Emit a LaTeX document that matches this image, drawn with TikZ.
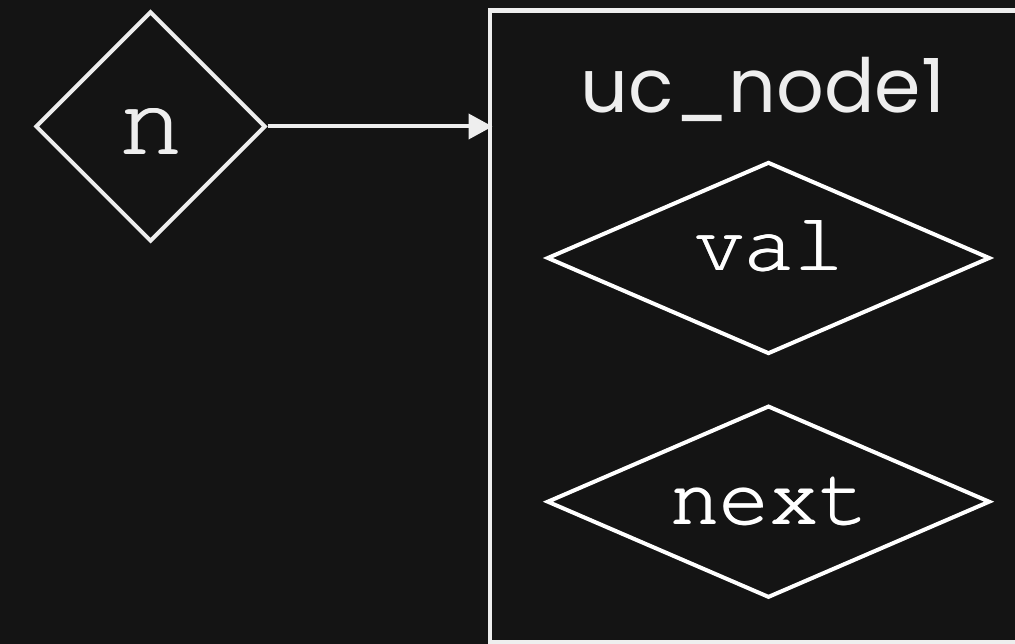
\documentclass[tikz,border=0pt]{standalone}
\usepackage[T1]{fontenc}
\usepackage{fontspec}
\setmainfont{Poppins}
\newcommand\codefont{\fontencoding{T1}\fontfamily{pcr}\selectfont}
\newcommand\heavy[1]{\rlap{\kern1.8pt#1}\rlap{\raise0.9pt\hbox{\kern0.9pt#1}}#1}
\usetikzlibrary{shapes.geometric,arrows.meta}
\definecolor{bg}{HTML}{141414}
\definecolor{fg}{HTML}{EEEEEE}
\begin{document}
\begin{tikzpicture}[x=1pt,y=-1pt,
  fieldbox/.style={diamond,draw=white,line width=4pt,inner sep=0pt,text=white,
     shape aspect=2.3,text depth=0pt,
     minimum width=443pt,minimum height=192pt,
     font=\codefont\fontsize{82.7}{82.7}\selectfont},
  ptrbox/.style={diamond,draw=fg,line width=4pt,inner sep=0pt,text=fg,
     text depth=0pt,text height=57pt,
     minimum width=230pt,minimum height=230pt,
     font=\codefont\fontsize{106.7}{106.7}\selectfont},
  structbox/.style={rectangle,inner sep=0pt,outer sep=0pt},
  structline/.style={draw=fg,line width=4.5pt,line join=miter},
  titletext/.style={text=fg,font=\fontsize{74.7}{74.7}\selectfont,inner sep=0pt,anchor=base},
  link/.style={draw=fg,line width=4pt,shorten >=-2.5pt,-{Triangle[length=24pt,width=25pt]}}]
\useasboundingbox (0,0) rectangle (1015,644);
\fill[bg] (-20,-20) rectangle (1100,670);
\node[structbox,minimum width=600pt,minimum height=631.5pt] (uc) at (790,326.25) {};
\draw[structline] (uc.north east) -- (uc.north west) -- (uc.south west) -- (uc.south east);
\node[titletext] (title) at (763,113) {uc\_node1};
\node[fieldbox,text height=26pt] (val) at (768.5,258) {\heavy{val}};
\node[fieldbox,text height=46pt] (next) at (768.5,501.7) {\heavy{next}};
\node[ptrbox] (n) at (150.5,126.5) {\heavy{n}};
\draw[link] (n.east) -- (n.east -| uc.west);
\end{tikzpicture}
\end{document}
